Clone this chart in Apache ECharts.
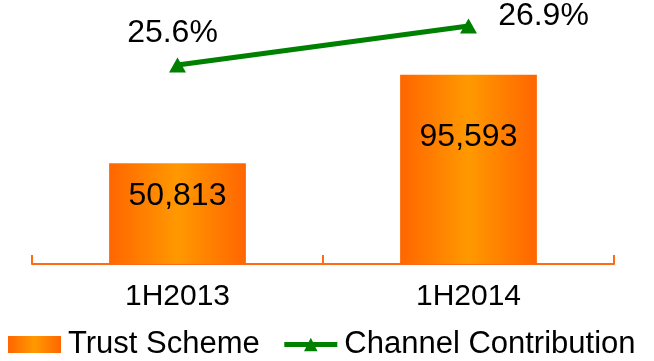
<!DOCTYPE html>
<html>
<head>
<meta charset="utf-8">
<script src="https://cdn.jsdelivr.net/npm/echarts@6/dist/echarts.min.js"></script>
<style>
html,body{margin:0;padding:0;background:#fff;}
#chart{width:654px;height:361px;}
</style>
</head>
<body>
<div id="chart"></div>
<script>
const categories = ['1H2013', '1H2014'];
const trustScheme = [50813, 95593];
const channelContribution = [25.6, 26.9];
const seriesNames = ['Trust Scheme', 'Channel Contribution'];

const FONT = 'Liberation Sans, Arial, sans-serif';
const chart = echarts.init(document.getElementById('chart'), null, {renderer: 'canvas'});

const orangeGrad = new echarts.graphic.LinearGradient(0, 0, 1, 0, [
  {offset: 0, color: '#FF6600'},
  {offset: 0.5, color: '#FF9900'},
  {offset: 1, color: '#FF6600'}
]);

const lineLabelOffsets = [[-5, -3], [75, 19]];

chart.setOption({
  animation: false,
  textStyle: {fontFamily: FONT},
  grid: {left: 32, right: 40, top: 0, bottom: 97, containLabel: false},
  legend: {
    left: 8,
    top: 329,
    padding: 0,
    itemWidth: 53,
    itemHeight: 17,
    itemGap: 22,
    textStyle: {fontSize: 31, color: '#000', fontFamily: FONT, padding: [0, 0, 0, 2]},
    data: [
      {name: seriesNames[0], icon: 'rect'},
      {name: seriesNames[1], lineStyle: {width: 5}}
    ]
  },
  xAxis: {
    type: 'category',
    data: categories,
    boundaryGap: true,
    axisLine: {show: true, onZero: false, lineStyle: {color: '#FF6A13', width: 2}},
    axisTick: {show: true, inside: true, length: 9, alignWithLabel: false, interval: 0, lineStyle: {color: '#FF6A13', width: 2}},
    axisLabel: {fontSize: 30, color: '#000', margin: 18, fontFamily: FONT}
  },
  yAxis: [
    {type: 'value', min: 0, max: 133300, show: false, splitLine: {show: false}},
    {type: 'value', min: 18.967, max: 27.767, show: false, splitLine: {show: false}}
  ],
  series: [
    {
      name: seriesNames[0],
      type: 'bar',
      yAxisIndex: 0,
      barWidth: '47%',
      data: trustScheme,
      itemStyle: {color: orangeGrad},
      label: {
        show: true,
        position: ['50%', '33%'],
        align: 'center',
        verticalAlign: 'middle',
        fontSize: 32,
        color: '#000',
        fontFamily: FONT,
        formatter: p => p.value.toLocaleString('en-US')
      }
    },
    {
      name: seriesNames[1],
      type: 'line',
      yAxisIndex: 1,
      data: channelContribution.map((v, i) => ({
        value: v,
        label: {offset: lineLabelOffsets[i]}
      })),
      symbol: 'triangle',
      symbolSize: [17, 15],
      lineStyle: {color: '#008000', width: 5},
      itemStyle: {color: '#008000'},
      label: {
        show: true,
        position: 'top',
        distance: 5,
        fontSize: 32,
        color: '#000',
        fontFamily: FONT,
        formatter: p => p.value.toFixed(1) + '%'
      }
    }
  ]
});
</script>
</body>
</html>
